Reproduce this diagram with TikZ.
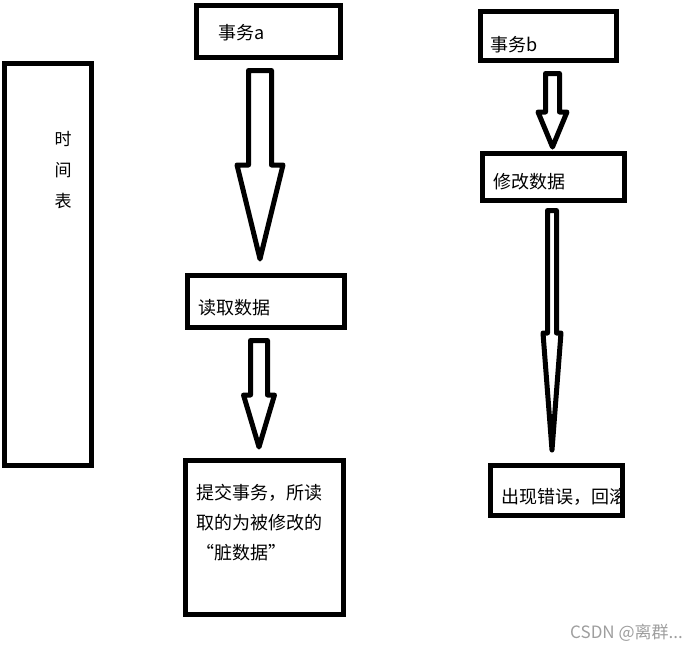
\documentclass[tikz,border=0pt]{standalone}
\usepackage{fontspec}
\newfontfamily\cjk{Noto Sans CJK SC}
\usepackage{tikz}
\tikzset{
	box/.style={draw,line width=5pt,inner sep=0pt},
	lbl/.style={font=\cjk\fontsize{18}{30}\selectfont,inner sep=0pt,anchor=west,align=left},
	fat/.style={draw,line width=5pt,line join=round},
}
\newcommand{\blockdown}[6]{%
	\draw[fat] (#1-#3,#2) -- (#1+#3,#2) -- (#1+#3,#4) -- (#1+#5,#4) -- (#1,#6) -- (#1-#5,#4) -- (#1-#3,#4) -- cycle;}

\begin{document}
\begin{tikzpicture}[x=1pt,y=-1pt]
	\useasboundingbox (0,0) rectangle (697,651);
	\node[box,minimum width=87pt,minimum height=402pt] (time) at (48,264.5) {};
	\node[lbl,anchor=center,align=center,font=\cjk\fontsize{17}{31}\selectfont] (time-l) at (63,170) {时\\间\\表};
	\node[box,minimum width=144pt,minimum height=52pt] (ta) at (268.5,31.5) {};
	\node[lbl] (ta-l) at (218,33) {事务a};
	\node[box,minimum width=157pt,minimum height=52pt] (read) at (266,301.5) {};
	\node[lbl] (read-l) at (198,308) {读取数据};
	\node[box,minimum width=158pt,minimum height=154pt] (commit) at (264.5,537.5) {};
	\node[lbl] (commit-l) at (196,523) {提交事务，所读\\取的为被修改的\\“脏数据”};
	\node[box,minimum width=136pt,minimum height=49pt] (tb) at (548.5,36) {};
	\node[lbl] (tb-l) at (490,45) {事务b};
	\node[box,minimum width=142pt,minimum height=47pt] (modify) at (553.5,177) {};
	\node[lbl] (modify-l) at (493,182) {修改数据};
	\node[box,minimum width=132pt,minimum height=50pt] (err) at (556.5,490.5) {};
	\begin{scope}
		\clip (err.south west) rectangle ([xshift=-5pt]err.north east);
		\node[lbl] (err-l) at (501,497) {出现错误，回滚};
	\end{scope}
	\blockdown{260}{70.5}{11.5}{165}{23}{259}
	\blockdown{259}{340.5}{8.5}{395}{15.5}{447}
	\blockdown{552.5}{73.5}{7}{112}{14.5}{147}
	\blockdown{552}{210.5}{4.5}{333}{9}{450}
	\node[font=\cjk\fontsize{17}{19}\selectfont,text=black!38,anchor=east,inner sep=0pt] (mark) at (683,633) {CSDN @离群...};
\end{tikzpicture}
\end{document}
